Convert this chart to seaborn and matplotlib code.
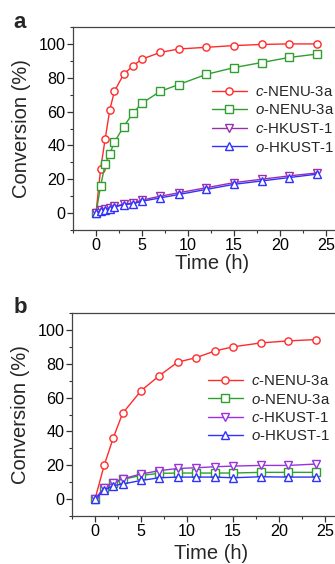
import numpy as np
import pandas as pd
import matplotlib
matplotlib.use("Agg")
import matplotlib.pyplot as plt
import seaborn as sns

sns.set_theme(style="ticks")
plt.rcParams['font.family'] = ['Liberation Sans', 'DejaVu Sans']
plt.rcParams['mathtext.fontset'] = 'custom'
plt.rcParams['mathtext.it'] = 'Liberation Sans:italic'
plt.rcParams['mathtext.rm'] = 'Liberation Sans'

# ---- data: panel a ----
time_a = [0, 0.5, 1, 1.5, 2, 3, 4, 5, 7, 9, 12, 15, 18, 21, 24]
c_nenu_a = [0, 26, 44, 61, 72, 82, 87, 91, 95, 97, 98, 99, 99.7, 100, 100]
o_nenu_a = [0, 16, 29, 35, 42, 51, 59, 65, 72, 76, 82, 86, 89, 92, 94]
c_hkust_a = [0, 1.6, 2.4, 3.2, 4, 5.3, 6, 7.7, 10, 12, 15, 18, 20, 22, 23.7]
o_hkust_a = [0, 1.2, 2, 2.6, 3.5, 5, 5.5, 7, 9, 11, 14, 17, 19, 21, 23]

# ---- data: panel b ----
time_b = [0, 1, 2, 3, 5, 7, 9, 11, 13, 15, 18, 21, 24]
c_nenu_b = [0, 20, 36.4, 50.7, 64, 73, 81, 83.6, 87.5, 90, 92.3, 93.5, 94.3]
o_nenu_b = [0, 6.3, 9.3, 11.6, 14, 15.2, 15.4, 15.4, 15.4, 15.4, 15.8, 15.8, 15.8]
c_hkust_b = [0, 6.7, 9.7, 12, 14.8, 16.8, 18.1, 18.5, 19.1, 19.5, 19.9, 19.9, 20.7]
o_hkust_b = [0, 5.3, 7.9, 8.9, 11, 12.6, 13, 13, 13, 12.6, 13.2, 13, 13]

labels = [r'$\it{c}$-NENU-3a', r'$\it{o}$-NENU-3a', r'$\it{c}$-HKUST-1', r'$\it{o}$-HKUST-1']
markers = ['o', 's', 'v', '^']
colors_a = ['#ff2a2a', '#2f9f2f', '#9a2fae', '#3030ff']
colors_b = ['#ff2a2a', '#2f9f2f', '#9a30e0', '#3030ff']
x_ticks = [0, 5, 10, 15, 20, 25]
y_ticks = [0, 20, 40, 60, 80, 100]

W, H = 335, 564
fig = plt.figure(figsize=(W / 100, H / 100), dpi=100)

def px_axes(left, top, width, height):
    return fig.add_axes([left / W, 1 - (top + height) / H, width / W, height / H])

def draw(ax, t, series, colors, leg_anchor, xlabel_y):
    for ys, lab, mk, col in zip(series, labels, markers, colors):
        sns.lineplot(x=t, y=ys, ax=ax, color=col, marker=mk, markersize=5.2,
                     markerfacecolor='white', markeredgecolor=col, markeredgewidth=1.0,
                     linewidth=1.0, label=lab, estimator=None, sort=False)
    ax.set_xlim(-2.5, 27.5)
    ax.set_ylim(-10, 110)
    ax.set_xticks(x_ticks)
    ax.set_yticks(y_ticks)
    ax.set_xticks(np.arange(-2.5, 27.6, 5), minor=True)
    ax.set_yticks(np.arange(-10, 111, 20), minor=True)
    ax.tick_params(which='major', direction='out', length=4, width=0.9, pad=1.5,
                   labelsize=11.6, color='#333333', labelcolor='black')
    ax.tick_params(which='minor', direction='out', length=2.5, width=0.8, color='#333333')
    for sp in ax.spines.values():
        sp.set_linewidth(0.9)
        sp.set_color('#444444')
    ax.set_xlabel('Time (h)', fontsize=14.5)
    ax.set_ylabel('Conversion (%)', fontsize=14.5)
    ax.xaxis.set_label_coords((212 - 73) / 276, xlabel_y)
    ax.yaxis.set_label_coords(-42 / 276, 0.5)
    ax.legend(loc='upper left', bbox_to_anchor=leg_anchor, frameon=False,
              fontsize=10.8, handlelength=2.3, handletextpad=0.55,
              labelspacing=0.3, borderpad=0, borderaxespad=0)

ax_a = px_axes(73, 27, 276, 203)
draw(ax_a, time_a, [c_nenu_a, o_nenu_a, c_hkust_a, o_hkust_a], colors_a,
     ((212 - 73) / 276, (230 - 85) / 203), -24 / 203)
ax_b = px_axes(72, 313, 276, 203)
draw(ax_b, time_b, [c_nenu_b, o_nenu_b, c_hkust_b, o_hkust_b], colors_b,
     ((208 - 72) / 276, (516 - 374) / 203), -28 / 203)

fig.text(13 / W, 1 - 28 / H, 'a', fontsize=16, fontweight='bold', ha='left', va='baseline')
fig.text(14 / W, 1 - 313 / H, 'b', fontsize=16, fontweight='bold', ha='left', va='baseline')

fig.savefig('out.png', dpi=100)
